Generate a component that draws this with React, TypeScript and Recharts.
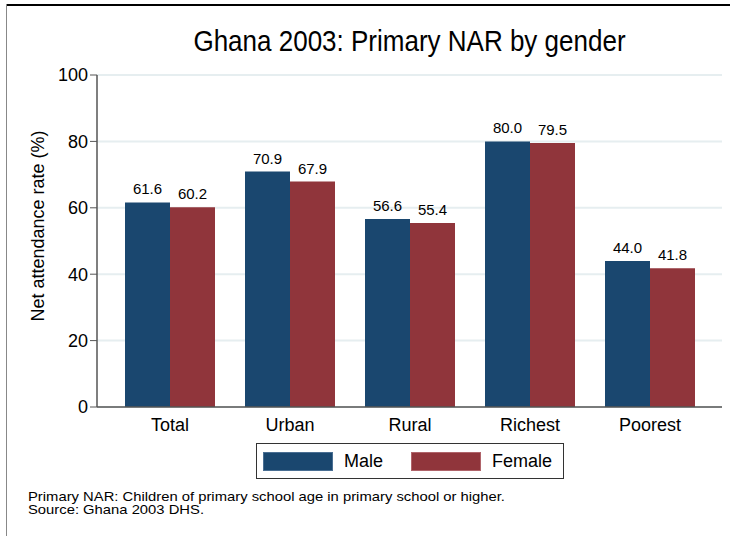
import React from 'react';
import { BarChart, Bar, XAxis, YAxis, CartesianGrid, LabelList, Legend } from 'recharts';

const categories = ['Total', 'Urban', 'Rural', 'Richest', 'Poorest'];
const maleValues = [61.6, 70.9, 56.6, 80.0, 44.0];
const femaleValues = [60.2, 67.9, 55.4, 79.5, 41.8];
const yTicks = [0, 20, 40, 60, 80, 100];
const seriesKeys = ['male', 'female'];
const seriesNames = ['Male', 'Female'];
const seriesColors = ['#1a476f', '#90353b'];
const titleText = 'Ghana 2003: Primary NAR by gender';
const yLabelText = 'Net attendance rate (%)';
const noteLines = [
  'Primary NAR: Children of primary school age in primary school or higher.',
  'Source: Ghana 2003 DHS.',
];

const data = categories.map((c, i) => ({ category: c, male: maleValues[i], female: femaleValues[i] }));

const FONT = '"Liberation Sans", Arial, Helvetica, sans-serif';

const LegendBox = () => (
  <div
    style={{
      boxSizing: 'border-box',
      width: 308,
      height: 36,
      border: '1px solid #333',
      background: '#fff',
      display: 'flex',
      alignItems: 'center',
      fontFamily: FONT,
      fontSize: 18,
      color: '#000',
    }}
  >
    {seriesNames.map((n, i) => (
      <div key={n} style={{ display: 'flex', alignItems: 'center', marginLeft: i === 0 ? 6 : 28 }}>
        <div style={{ width: 70, height: 19, background: seriesColors[i], boxSizing: 'border-box', border: '1px solid ' + (i === 0 ? '#4a6f93' : '#b0646a') }} />
        <span style={{ marginLeft: 11 }}>{n}</span>
      </div>
    ))}
  </div>
);

export default function App() {
  return (
    <div style={{ position: 'absolute', left: 0, top: 0, width: 730, height: 536, background: '#fff', overflow: 'hidden' }}>
      <div style={{ position: 'absolute', left: 6, top: 4, right: 0, height: 0, borderTop: '2px solid #000' }} />
      <div style={{ position: 'absolute', left: 6, top: 4, bottom: 0, width: 0, borderLeft: '1px solid #888' }} />
      <div
        style={{
          position: 'absolute',
          left: 97,
          width: 625,
          top: 27,
          height: 30,
          textAlign: 'center',
          fontFamily: FONT,
          fontSize: 26,
          color: '#000',
          lineHeight: '30px',
          transform: 'scaleY(1.15)',
          transformOrigin: 'center 24px',
        }}
      >
        {titleText}
      </div>
      <BarChart
        width={730}
        height={536}
        data={data}
        margin={{ top: 75, right: 8, left: 0, bottom: 99 }}
        barCategoryGap="12.5%"
        barGap={0}
        style={{ position: 'absolute', left: 0, top: 0 }}
      >
        <CartesianGrid vertical={false} stroke="#e6eef0" strokeWidth={2} />
        <XAxis
          dataKey="category"
          height={30}
          padding={{ left: 13, right: 12 }}
          tickLine={false}
          tickSize={0}
          tickMargin={11}
          axisLine={{ stroke: '#555', strokeWidth: 1.5 }}
          tick={{ fontSize: 18, fill: '#000', fontFamily: FONT }}
        />
        <YAxis
          width={97}
          domain={[0, 100]}
          ticks={yTicks}
          interval={0}
          tickSize={7}
          tickMargin={2}
          axisLine={{ stroke: '#555', strokeWidth: 1.5 }}
          tickLine={{ stroke: '#555' }}
          tick={{ fontSize: 18, fill: '#000', fontFamily: FONT }}
          label={{
            value: yLabelText,
            angle: -90,
            position: 'insideLeft',
            offset: 38,
            dy: -15,
            style: { textAnchor: 'middle', fontSize: 18, fill: '#000', fontFamily: FONT },
          }}
        />
        <Legend
          layout="horizontal"
          verticalAlign="middle"
          align="center"
          wrapperStyle={{ left: 256, top: 443, width: 308, height: 36 }}
          content={() => <LegendBox />}
        />
        {seriesKeys.map((k, i) => (
          <Bar key={k} dataKey={k} name={seriesNames[i]} fill={seriesColors[i]} isAnimationActive={false}>
            <LabelList
              dataKey={k}
              position="top"
              offset={8}
              formatter={(v: number) => v.toFixed(1)}
              style={{ fontSize: 15, fill: '#000', fontFamily: FONT }}
            />
          </Bar>
        ))}
      </BarChart>
      <div
        style={{
          position: 'absolute',
          left: 28,
          top: 491,
          fontFamily: FONT,
          fontSize: 14.8,
          lineHeight: '15px',
          color: '#000',
          transform: 'scaleY(0.86)',
          transformOrigin: 'left top',
        }}
      >
        {noteLines.map((l) => (
          <div key={l}>{l}</div>
        ))}
      </div>
    </div>
  );
}
